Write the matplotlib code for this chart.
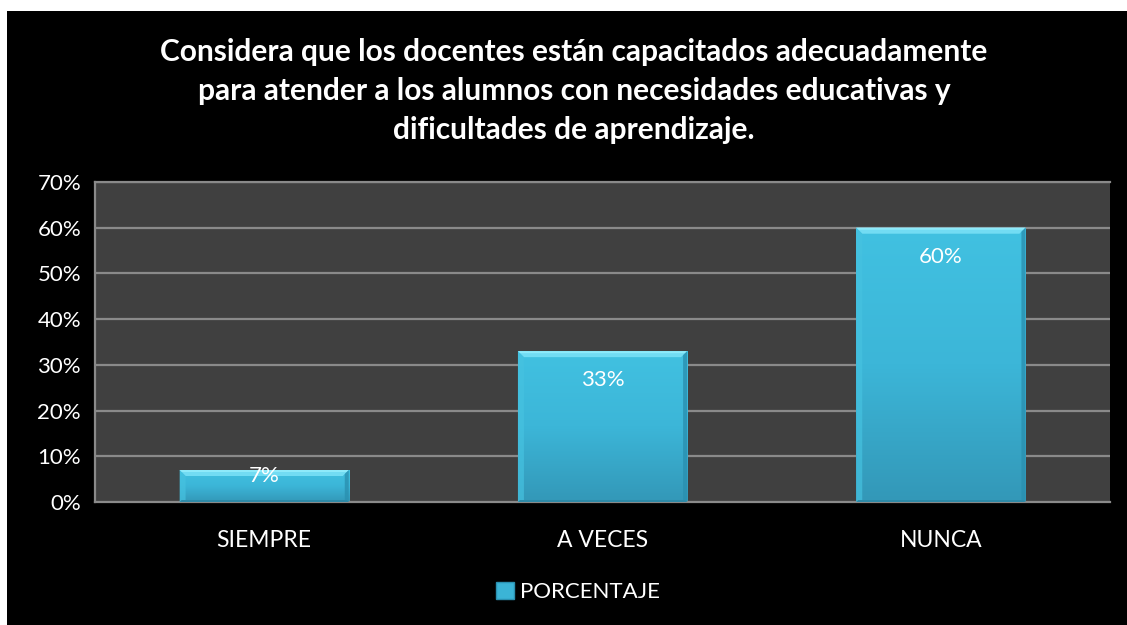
from matplotlib import pyplot as plt
from matplotlib.patches import Polygon, Rectangle, Patch
from matplotlib.colors import LinearSegmentedColormap
import numpy as np

# data
categories = ['SIEMPRE', 'A VECES', 'NUNCA']
values = [0.07, 0.33, 0.60]
labels = ['7%', '33%', '60%']
yticks = [0, 0.1, 0.2, 0.3, 0.4, 0.5, 0.6, 0.7]
title = ('Considera que los docentes están capacitados adecuadamente\n'
         'para atender a los alumnos con necesidades educativas y\n'
         'dificultades de aprendizaje.')

plt.rcParams['font.family'] = ['Lato', 'DejaVu Sans']

fig = plt.figure(figsize=(11.27, 6.25), dpi=100, facecolor='white')
# black chart area, leaves thin white strip at top and left
fig.patches.append(Rectangle((7/1127, -0.01), 1.1, 1.01 - 11/625, transform=fig.transFigure,
                             facecolor='black', edgecolor='none', zorder=-5))

ax = fig.add_axes([95/1127, 1 - 502/625, 1015/1127, 320/625])
ax.set_facecolor('#404040')
ax.set_xlim(-0.5, 2.5)
ax.set_ylim(0, 0.7)

for y in yticks[1:]:
    ax.axhline(y, color='#8a8a8a', lw=1.6, zorder=1)
for s in ['left', 'bottom', 'top']:
    ax.spines[s].set_color('#8a8a8a')
    ax.spines[s].set_linewidth(1.6)
ax.spines['right'].set_visible(False)

grad = LinearSegmentedColormap.from_list('bar', ['#3398b8', '#3cb6d8', '#41c1e1'])
w = 0.5
px = 3 / 1015          # one pixel in x data units
py = 0.7 / 320         # one pixel in y data units
for i, v in enumerate(values):
    x0, x1 = i - w/2, i + w/2
    rect = Rectangle((x0, 0), w, v, facecolor='none', edgecolor='none', zorder=2)
    ax.add_patch(rect)
    im = ax.imshow(np.linspace(1, 0, 100).reshape(-1, 1), cmap=grad, aspect='auto',
                   extent=(x0, x1, 0, v), zorder=2, interpolation='bicubic')
    im.set_clip_path(rect)
    # bevel faces
    t = 6
    ax.add_patch(Polygon([(x0, v), (x1, v), (x1 - t*px, v - t*py), (x0 + t*px, v - t*py)],
                         facecolor='#72dcf3', edgecolor='none', zorder=3))
    ax.add_patch(Polygon([(x0, v), (x1, v), (x1 - 2*px, v - 2*py), (x0 + 2*px, v - 2*py)],
                         facecolor='#8eeafa', edgecolor='none', zorder=3))
    ax.add_patch(Polygon([(x0, 0), (x0, v), (x0 + t*px, v - t*py), (x0 + t*px, 2*py)],
                         facecolor='#46c2e0', edgecolor='none', alpha=0.7, zorder=3))
    ax.add_patch(Polygon([(x1, 0), (x1, v), (x1 - 4*px, v - 4*py), (x1 - 4*px, 2*py)],
                         facecolor='#2a90b0', edgecolor='none', alpha=0.8, zorder=3))
    ax.add_patch(Polygon([(x0, 0), (x1, 0), (x1 - 2*px, 2*py), (x0 + 2*px, 2*py)],
                         facecolor='#2d8aa8', edgecolor='none', zorder=3))
    # Excel-like inside-end label, pushed up when the bar is too short
    off = -21 if v / py > 60 else -4
    ax.annotate(labels[i], (i, v), xytext=(0, off), textcoords='offset points',
                ha='center', va='center', color='white', fontsize=16, zorder=4)

ax.set_xticks(range(len(categories)))
ax.set_xticklabels(categories)
ax.set_yticks(yticks)
ax.set_yticklabels(['%d%%' % round(t * 100) for t in yticks])
ax.tick_params(colors='white', labelsize=16, length=0)
ax.tick_params(axis='x', labelsize=16.5, pad=20)
ax.tick_params(axis='y', pad=10)

fig.text(574/1127, 1 - 91/625, title, ha='center', va='center', color='white',
         fontsize=21.5, fontweight='bold', linespacing=1.5)

handle = Patch(facecolor='#3bb4d6', edgecolor='#2a90b0', label='PORCENTAJE')
fig.legend(handles=[handle], loc='center', bbox_to_anchor=(578/1127, 1 - 592/625),
           frameon=False, fontsize=16, labelcolor='white', handlelength=0.8,
           handleheight=0.8, handletextpad=0.3)

plt.savefig('out.png', dpi=100, facecolor=fig.get_facecolor())
